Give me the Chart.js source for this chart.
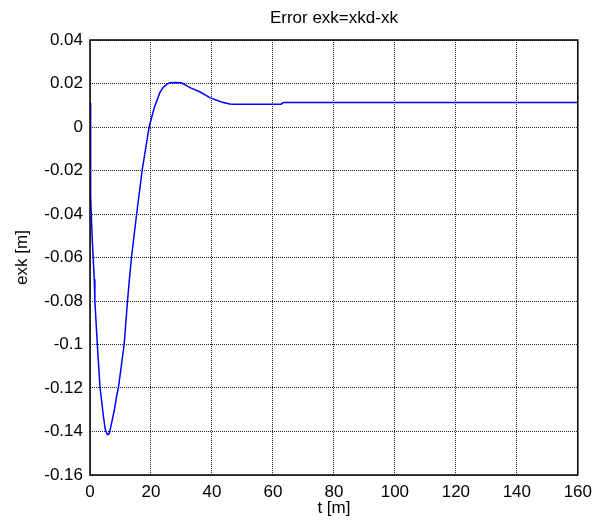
<!DOCTYPE html>
<html lang="en">
<head>
    <meta charset="UTF-8">
    <title>Error exk=xkd-xk</title>
    <script src="https://cdn.jsdelivr.net/npm/chart.js"></script>
    <style>
        body { margin: 0; background: #fff; }
        .chart-box { width: 599px; height: 527px; }
    </style>
</head>
<body>
    <div class="chart-box">
        <canvas id="errorChart"></canvas>
    </div>

    <script>
        // values
        const timeValues = [0, 0.1, 0.3, 0.75, 1.4, 1.6, 2.4, 3.3, 4.4, 5.0, 5.7, 6.3, 7.1, 8.0, 8.7, 9.3, 10.4, 11.2, 12.3, 12.8, 13.6, 15.3, 17.1, 19.4, 21.0, 22.9, 24, 25.1, 26.2, 28, 30, 33, 36, 39.3, 43.1, 45.8, 47, 62.7, 63.5, 160];
        const errorValues = [0.011, -0.005, -0.032, -0.052, -0.07, -0.08, -0.1, -0.12, -0.133, -0.139, -0.1415, -0.141, -0.136, -0.13, -0.124, -0.12, -0.1085, -0.1, -0.08, -0.072, -0.06, -0.04, -0.02, 0, 0.0085, 0.0158, 0.0182, 0.0196, 0.0203, 0.0205, 0.0203, 0.018, 0.0162, 0.0135, 0.0115, 0.0106, 0.0105, 0.0105, 0.0113, 0.0113];
        const xTickLabels = ['0', '20', '40', '60', '80', '100', '120', '140', '160'];
        const yTickLabels = ['-0.16', '-0.14', '-0.12', '-0.1', '-0.08', '-0.06', '-0.04', '-0.02', '0', '0.02', '0.04'];

        const points = timeValues.map((t, i) => ({ x: t, y: errorValues[i] }));
        const font = { family: 'Liberation Sans, Arial, sans-serif', size: 17 };

        // full box round the plot plus the title over the plot area
        const framePlugin = {
            id: 'frame',
            afterDraw(chart) {
                const { ctx, chartArea } = chart;
                ctx.save();
                ctx.strokeStyle = '#000';
                ctx.lineWidth = 1.5;
                ctx.strokeRect(chartArea.left, chartArea.top, chartArea.right - chartArea.left, chartArea.bottom - chartArea.top);
                ctx.fillStyle = '#000';
                ctx.font = '17px Liberation Sans, Arial, sans-serif';
                ctx.textAlign = 'center';
                ctx.textBaseline = 'middle';
                ctx.fillText('Error exk=xkd-xk', (chartArea.left + chartArea.right) / 2, 18);
                ctx.restore();
            }
        };

        const ctx = document.getElementById('errorChart').getContext('2d');
        new Chart(ctx, {
            type: 'line',
            data: {
                datasets: [{
                    data: points,
                    borderColor: '#0000FF',
                    borderWidth: 1.5,
                    pointRadius: 0,
                    tension: 0,
                    fill: false
                }]
            },
            options: {
                responsive: true,
                maintainAspectRatio: false,
                animation: false,
                layout: { padding: { top: 40, right: 20 } },
                plugins: {
                    legend: { display: false },
                    tooltip: { enabled: false }
                },
                scales: {
                    x: {
                        type: 'linear',
                        min: 0,
                        max: 160,
                        afterFit: s => { s.height = 52; },
                        ticks: {
                            stepSize: 20,
                            color: '#000',
                            font: font,
                            padding: 7,
                            maxRotation: 0,
                            callback: (v, i) => xTickLabels[i]
                        },
                        grid: { color: '#222', drawTicks: false },
                        border: { display: false, dash: [1, 1] },
                        title: { display: true, text: 't [m]', color: '#000', font: font, padding: { top: 0, bottom: 8 } }
                    },
                    y: {
                        min: -0.16,
                        max: 0.04,
                        afterFit: s => { s.width = 90; },
                        ticks: {
                            stepSize: 0.02,
                            color: '#000',
                            font: font,
                            padding: 7,
                            callback: (v, i) => yTickLabels[i]
                        },
                        grid: { color: '#222', drawTicks: false },
                        border: { display: false, dash: [1, 1] },
                        title: { display: true, text: 'exk [m]', color: '#000', font: font, padding: { top: 12, bottom: 0 } }
                    }
                }
            },
            plugins: [framePlugin]
        });
    </script>
</body>
</html>
